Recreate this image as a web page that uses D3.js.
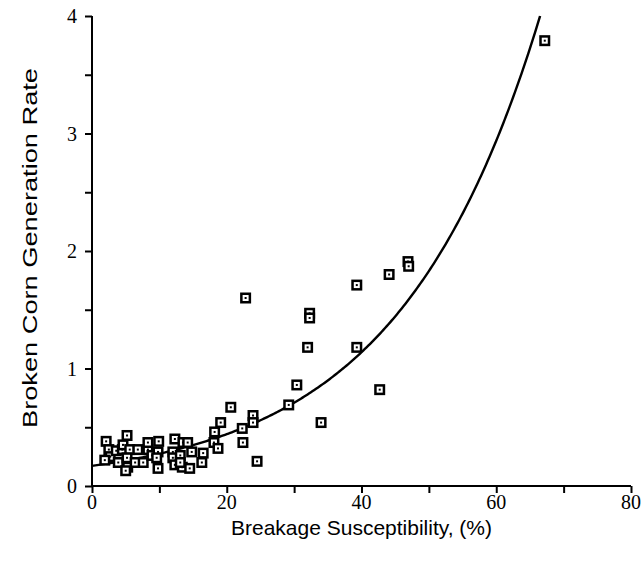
<!DOCTYPE html>
<html>
<head>
<meta charset="utf-8">
<script src="https://cdn.jsdelivr.net/npm/d3@7"></script>
<style>
  body { margin: 0; background: #fff; }
</style>
</head>
<body>
<script>
// breakage susceptibility (%) of each sample
const susceptibility = [
  2.1, 2.5, 2.7, 1.9, 3.6, 3.9, 4.5, 4.6, 5.2, 5.6, 5.2, 5.3, 5.0, 6.4, 6.8, 7.6,
  8.3, 8.3, 8.9, 9.9, 9.8, 9.6, 9.8, 12.0, 12.3, 12.0, 12.3, 13.1, 13.4, 13.5,
  14.2, 14.8, 14.5, 13.1, 16.3, 16.5,
  18.2, 18.1, 18.7, 19.1, 20.6, 22.3, 22.4, 23.9, 23.9, 24.5, 22.8,
  29.2, 30.4, 32.0, 32.3, 32.3, 34.0, 39.3, 39.3, 42.7, 44.1, 46.9, 47.0, 67.2
]
// broken corn generation rate of each sample
const generationRate = [
  0.38, 0.31, 0.25, 0.22, 0.30, 0.20, 0.31, 0.35, 0.43, 0.31, 0.24, 0.16, 0.13, 0.20, 0.31, 0.20,
  0.31, 0.37, 0.26, 0.38, 0.29, 0.24, 0.15, 0.29, 0.40, 0.24, 0.18, 0.26, 0.16, 0.37,
  0.37, 0.29, 0.15, 0.20, 0.20, 0.28,
  0.46, 0.37, 0.32, 0.54, 0.67, 0.49, 0.37, 0.60, 0.54, 0.21, 1.60,
  0.69, 0.86, 1.18, 1.47, 1.43, 0.54, 1.71, 1.18, 0.82, 1.80, 1.91, 1.87, 3.79
]
// fitted curve: rate = a * exp(b * susceptibility)
const fitCoef = [0.171, 0.0474]
const xTicks = [0, 20, 40, 60, 80]
const yTicks = [0, 1, 2, 3, 4]

const W = 644, H = 563
const margin = { top: 16, right: 13, bottom: 77, left: 92 },
  width = W - margin.left - margin.right,
  height = H - margin.top - margin.bottom

const svg = d3.select("body")
  .append("svg")
    .attr("width", W)
    .attr("height", H)

const canvas = svg.append("g")
    .attr("transform", "translate(" + margin.left + "," + margin.top + ")")

const x = d3.scaleLinear().domain([0, 80]).range([0, width])
const y = d3.scaleLinear().domain([0, 4]).range([height, 0])

// fitted curve, stopped at the top of the plot
const curvePts = []
for (let v = 0; v <= 80; v += 0.25) {
  const r = fitCoef[0] * Math.exp(fitCoef[1] * v)
  if (r > 4) {
    curvePts.push([Math.log(4 / fitCoef[0]) / fitCoef[1], 4])
    break
  }
  curvePts.push([v, r])
}
const line = d3.line().x(d => x(d[0])).y(d => y(d[1]))
canvas.append("path")
    .attr("d", line(curvePts))
    .attr("fill", "none")
    .attr("stroke", "#000")
    .attr("stroke-width", 2.4)

// data points
const pts = susceptibility.map((v, i) => [v, generationRate[i]])
const mk = canvas.selectAll(".pt")
  .data(pts)
  .enter()
  .append("g")
    .attr("class", "pt")
    .attr("transform", d => "translate(" + x(d[0]) + "," + y(d[1]) + ")")
mk.append("rect").attr("x", -5.5).attr("y", -5.5).attr("width", 11).attr("height", 11).attr("fill", "#000")
mk.append("rect").attr("x", -3).attr("y", -3).attr("width", 6).attr("height", 6).attr("fill", "#fff")
mk.append("rect").attr("x", -1).attr("y", -1).attr("width", 2).attr("height", 2).attr("fill", "#000")

// axes
const xAxis = canvas.append("g")
    .attr("transform", "translate(0," + height + ")")
    .call(d3.axisBottom(x).tickValues(d3.range(0, 81, 10)).tickSize(7).tickFormat(""))
const yAxis = canvas.append("g")
    .call(d3.axisLeft(y).tickValues(d3.range(0, 4.01, 0.5)).tickSize(7).tickFormat(""))
xAxis.select(".domain").attr("d", "M0,0H" + width).attr("stroke-width", 2)
yAxis.select(".domain").attr("d", "M0,0V" + height).attr("stroke-width", 2)
canvas.selectAll(".tick line").attr("stroke-width", 2)

canvas.selectAll(".xlab")
  .data(xTicks)
  .enter()
  .append("text")
    .attr("x", d => x(d))
    .attr("y", height + 23)
    .attr("text-anchor", "middle")
    .attr("font-family", "Liberation Serif, serif")
    .attr("font-size", 20)
    .text(d => d)

canvas.selectAll(".ylab")
  .data(yTicks)
  .enter()
  .append("text")
    .attr("x", -15)
    .attr("y", d => y(d) + 7)
    .attr("text-anchor", "end")
    .attr("font-family", "Liberation Serif, serif")
    .attr("font-size", 20)
    .text(d => d)

svg.append("text")
    .attr("x", margin.left + width / 2)
    .attr("y", 535)
    .attr("text-anchor", "middle")
    .attr("font-family", "Liberation Sans, Arial, sans-serif")
    .attr("font-size", 21)
    .text("Breakage Susceptibility, (%)")

svg.append("text")
    .attr("transform", "translate(37,248) rotate(-90)")
    .attr("text-anchor", "middle")
    .attr("font-family", "Liberation Sans, Arial, sans-serif")
    .attr("font-size", 21)
    .attr("textLength", 360)
    .attr("lengthAdjust", "spacingAndGlyphs")
    .text("Broken Corn Generation Rate")
</script>
</body>
</html>
